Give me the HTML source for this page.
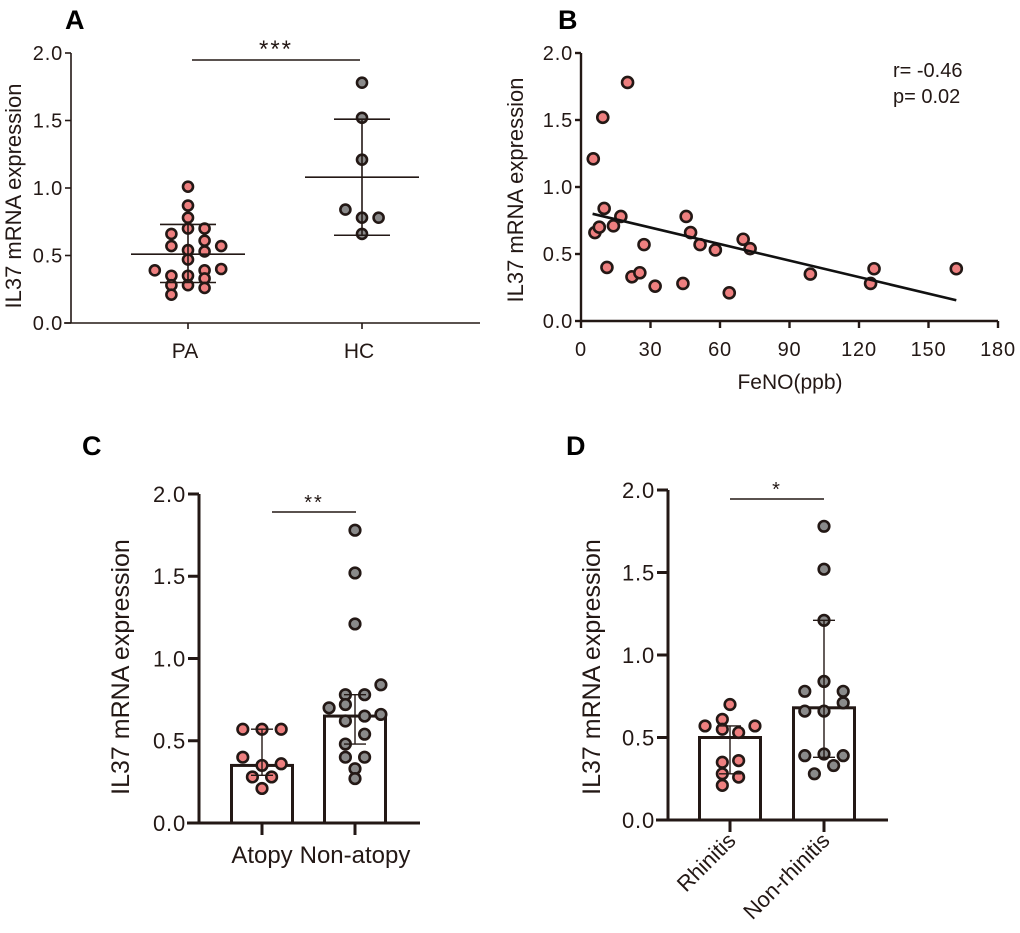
<!DOCTYPE html>
<html><head><meta charset="utf-8"><style>
body{margin:0;background:#fff}
svg{display:block;font-family:"Liberation Sans",Arial,sans-serif}
</style></head><body>
<svg id="fig" width="1020" height="933" viewBox="0 0 1020 933" xmlns="http://www.w3.org/2000/svg"></svg>
<script>
// Panel A data
const aCats=["PA","HC"];
const aPAvals=[1.01,0.87,0.78,0.70,0.70,0.66,0.61,0.57,0.57,0.54,0.53,0.47,0.39,0.40,0.39,0.35,0.35,0.33,0.28,0.28,0.26,0.21];
const aPAoff=[0,0,0,0,1,-1,1,-1,2,0,1,0,-2,2,1,-1,0,1,-1,0,1,-1];
const aHCvals=[1.78,1.52,1.21,0.84,0.78,0.78,0.66];
const aHCoff=[0,0,0,-1,0,1,0];
const aMean=[0.51,1.08];
const aSDlo=[0.30,0.65];
const aSDhi=[0.73,1.51];
// Panel B data
const bFeno=[5.3,9.4,20.1,10,6,7.9,14,17.2,11.2,22,25.4,27.2,32,44,45.4,47.3,51.4,58,64,70,73,99,125,126.5,162];
const bVals=[1.21,1.52,1.78,0.84,0.66,0.70,0.71,0.78,0.40,0.33,0.36,0.57,0.26,0.28,0.78,0.66,0.57,0.53,0.21,0.61,0.54,0.35,0.28,0.39,0.39];
const bFitX=[5,162];
const bFitY=[0.80,0.155];
const bXTicks=[0,30,60,90,120,150,180];
const yTicks=[0,0.5,1.0,1.5,2.0];
// Panel C data
const cCats=["Atopy","Non-atopy"];
const cBars=[0.35,0.65];
const cErrLo=[0.29,0.48];
const cErrHi=[0.57,0.78];
const cAvals=[0.57,0.57,0.57,0.40,0.35,0.36,0.28,0.28,0.21];
const cAoff=[-2,0,2,-2,0,2,-1,1,0];
const cNvals=[1.78,1.52,1.21,0.84,0.78,0.78,0.70,0.72,0.66,0.62,0.65,0.54,0.48,0.40,0.40,0.33,0.27];
const cNoff=[0,0,0,2.7,-1,1,-2.7,-1,2.7,-1,1,1,-1,1,-1,0,0];
// Panel D data
const dCats=["Rhinitis","Non-rhinitis"];
const dBars=[0.50,0.68];
const dErrLo=[0.28,0.38];
const dErrHi=[0.57,1.21];
const dRvals=[0.70,0.61,0.57,0.57,0.55,0.53,0.35,0.36,0.28,0.26,0.21];
const dRoff=[0,-0.8,-2.6,2.6,-0.8,0.9,-0.8,0.9,-0.8,0.9,-0.8];
const dNvals=[1.78,1.52,1.21,0.84,0.78,0.78,0.71,0.66,0.66,0.39,0.40,0.39,0.28,0.33];
const dNoff=[0,0,0,0,-2,2,2,-2,0,-2,0,2,-1,1];

const NS="http://www.w3.org/2000/svg";
const svg=document.getElementById('fig');
function el(tag,attrs,parent){const e=document.createElementNS(NS,tag);for(const k in attrs)e.setAttribute(k,attrs[k]);(parent||svg).appendChild(e);return e;}
function txt(s,attrs,parent){const e=el('text',attrs,parent);e.textContent=s;return e;}
const INK="#231815", PINK="#ee7f7f", GREY="#8a8a8a";

function yAxis(g,x0,yS,ticks,fs,sw,tl){
  let l=el('line',{x1:x0,x2:x0,y1:yS(2),y2:yS(0),stroke:INK,'stroke-width':sw},g);
  
  ticks.forEach(t=>{
    el('line',{x1:x0-tl,x2:x0,y1:yS(t),y2:yS(t),stroke:INK,'stroke-width':sw},g);
    let tt=txt(t.toFixed(1),{x:x0-tl-2,y:yS(t)+fs*0.36,'font-size':fs,'text-anchor':'end',fill:INK,'letter-spacing':'0.8'},g);
    
  });
}
function dot(g,cx,cy,fill,r){
  const c=el('circle',{cx:cx,cy:cy,r:r||5.5,fill:fill,stroke:INK,'stroke-width':2.6},g);
  
}
function ytitle(g,x,y,fs){
  const t=txt('IL37 mRNA expression',{x:0,y:0,'font-size':fs,'text-anchor':'middle',fill:INK,transform:`translate(${x},${y}) rotate(-90)`},g);
  
}
function letter(s,x,y){const t=txt(s,{x:x,y:y,'font-size':27,'font-weight':'bold',fill:'#000'});}
function sig(g,x1,x2,y,stars,fs){
  const l=el('line',{x1:x1,x2:x2,y1:y,y2:y,stroke:INK,'stroke-width':1.6},g);
  
  const t=txt(stars,{x:(x1+x2)/2,y:y-3,'font-size':fs,'text-anchor':'middle',fill:INK,'letter-spacing':'2'},g);
  
}

// ===== Panel A =====
(function(){
  const g=el('g',{});
  const y0=323,y2=53,ys=v=>y0-(y0-y2)*v/2;
  const cx=[188,362], step=16.6;
  letter('A',65,29);
  yAxis(g,71,ys,yTicks,20,1.6,6);
  el('line',{x1:64,x2:480,y1:y0,y2:y0,stroke:INK,'stroke-width':1.6},g);
  aCats.forEach((c,i)=>{
    el('line',{x1:cx[i],x2:cx[i],y1:y0,y2:y0+6,stroke:INK,'stroke-width':1.6},g);
    const t=txt(c,{x:cx[i]-3,y:358,'font-size':21,'text-anchor':'middle',fill:INK},g);
    
  });
  ytitle(g,21,196,22);
  sig(g,192,360,60,'***',24);
  aPAvals.forEach((v,i)=>dot(g,cx[0]+aPAoff[i]*step,ys(v),PINK,5));
  aHCvals.forEach((v,i)=>dot(g,cx[1]+aHCoff[i]*step,ys(v),GREY,5));
  const mw=[57,57], sw=[28,28];
  [0,1].forEach(i=>{
    el('line',{x1:cx[i]-mw[i],x2:cx[i]+mw[i],y1:ys(aMean[i]),y2:ys(aMean[i]),stroke:INK,'stroke-width':1.6},g);
    el('line',{x1:cx[i],x2:cx[i],y1:ys(aSDlo[i]),y2:ys(aSDhi[i]),stroke:INK,'stroke-width':1.6},g);
    el('line',{x1:cx[i]-sw[i],x2:cx[i]+sw[i],y1:ys(aSDlo[i]),y2:ys(aSDlo[i]),stroke:INK,'stroke-width':1.6},g);
    el('line',{x1:cx[i]-sw[i],x2:cx[i]+sw[i],y1:ys(aSDhi[i]),y2:ys(aSDhi[i]),stroke:INK,'stroke-width':1.6},g);
  });
})();

// ===== Panel B =====
(function(){
  const g=el('g',{});
  const y0=321,y2=53,ys=v=>y0-(y0-y2)*v/2;
  const x0=581,x1=998,xs=v=>x0+(x1-x0)*v/180;
  letter('B',558,29);
  yAxis(g,x0,ys,yTicks,20,2.4,6);
  el('line',{x1:x0,x2:x1,y1:y0,y2:y0,stroke:INK,'stroke-width':2.4},g);
  bXTicks.forEach(t=>{
    el('line',{x1:xs(t),x2:xs(t),y1:y0,y2:y0+7,stroke:INK,'stroke-width':2.4},g);
    const tt=txt(String(t),{x:xs(t),y:356,'font-size':20,'text-anchor':'middle',fill:INK,'letter-spacing':'0.8'},g);
    
  });
  const xt=txt('FeNO(ppb)',{x:790,y:389,'font-size':21,'text-anchor':'middle',fill:INK},g);
  
  ytitle(g,523,190,22);
  const r1=txt('r= -0.46',{x:893,y:77,'font-size':20,fill:INK},g);
  
  const r2=txt('p= 0.02',{x:893,y:103,'font-size':20,fill:INK},g);
  
  bFeno.forEach((f,i)=>dot(g,xs(f),ys(bVals[i]),PINK,5.5));
  const fl=el('line',{x1:xs(bFitX[0]),x2:xs(bFitX[1]),y1:ys(bFitY[0]),y2:ys(bFitY[1]),stroke:'#111','stroke-width':2.6},g);
  
})();

// ===== Bar panels =====
function barPanel(name,L,opts){
  const g=el('g',{});
  const {x0,y0,y2,xEnd,cx,bw,bars,lo,hi,vals,offs,fills,cats,sigY,stars,rot,ttlX}=opts;
  const ys=v=>y0-(y0-y2)*v/2;
  letter(L,opts.lx,455);
  yAxis(g,x0,ys,yTicks,22,3,11);
  ytitle(g,ttlX,667,25);
  [0,1].forEach(i=>{
    const b=el('rect',{x:cx[i]-bw/2,y:ys(bars[i]),width:bw,height:y0-ys(bars[i]),fill:'#fff',stroke:INK,'stroke-width':3},g);
    
  });
  el('line',{x1:x0-12,x2:xEnd,y1:y0,y2:y0,stroke:INK,'stroke-width':3},g);
  [0,1].forEach(i=>{
    el('line',{x1:cx[i],x2:cx[i],y1:y0,y2:y0+12,stroke:INK,'stroke-width':3},g);
    vals[i].forEach((v,j)=>dot(g,cx[i]+offs[i][j]*9.6,ys(v),fills[i],5.3));
    el('line',{x1:cx[i],x2:cx[i],y1:ys(lo[i]),y2:ys(hi[i]),stroke:INK,'stroke-width':1.4},g);
    el('line',{x1:cx[i]-11,x2:cx[i]+11,y1:ys(lo[i]),y2:ys(lo[i]),stroke:INK,'stroke-width':1.4},g);
    el('line',{x1:cx[i]-11,x2:cx[i]+11,y1:ys(hi[i]),y2:ys(hi[i]),stroke:INK,'stroke-width':1.4},g);
    let t;
    if(rot){
      t=txt(cats[i],{x:0,y:0,'font-size':22,'text-anchor':'end',fill:INK,transform:`translate(${cx[i]+7},${y0+22}) rotate(-45)`},g);
    } else {
      t=txt(cats[i],{x:cx[i],y:y0+40,'font-size':24,'text-anchor':'middle',fill:INK},g);
    }
    
  });
  sig(g,opts.sx[0],opts.sx[1],sigY,stars,20);
}
barPanel('panel-c','C',{x0:199,y0:823,y2:494,xEnd:420,cx:[262,355],bw:61,bars:cBars,lo:cErrLo,hi:cErrHi,
  vals:[cAvals,cNvals],offs:[cAoff,cNoff],fills:[PINK,GREY],cats:cCats,sigY:512,stars:'**',rot:false,ttlX:129,lx:82,sx:[272,356]});
barPanel('panel-d','D',{x0:668,y0:820,y2:490,xEnd:888,cx:[730,824],bw:61,bars:dBars,lo:dErrLo,hi:dErrHi,
  vals:[dRvals,dNvals],offs:[dRoff,dNoff],fills:[PINK,GREY],cats:dCats,sigY:499,stars:'*',rot:true,ttlX:600,lx:566,sx:[730,824]});
</script>
</body></html>
